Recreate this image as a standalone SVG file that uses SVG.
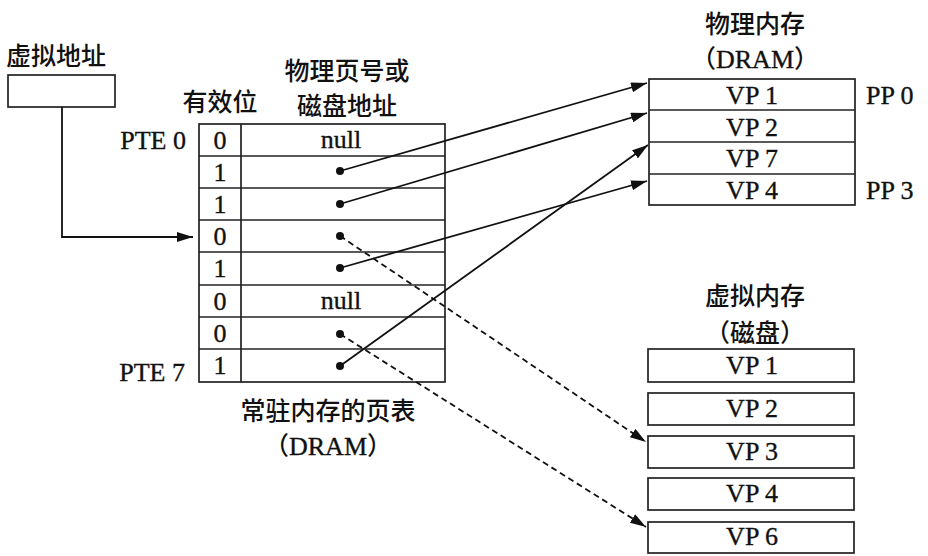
<svg xmlns="http://www.w3.org/2000/svg" width="928" height="556" viewBox="0 0 928 556">
<defs>
<marker id="ah" viewBox="0 0 16 10" refX="16" refY="5" markerWidth="16" markerHeight="10" markerUnits="userSpaceOnUse" orient="auto">
<path d="M0,0 L16,5 L0,10 Z" fill="#111"/>
</marker>
</defs>
<style>
.box{fill:#fff;stroke:#222;stroke-width:1.7}
.ln{stroke:#222;stroke-width:1.7;fill:none}
.cn{stroke:#111;stroke-width:1.8;fill:none}
.dash{stroke-dasharray:6,4}
.t{font-family:"Liberation Serif","Times New Roman",serif;font-size:26px;fill:#111;stroke:#111;stroke-width:0.35}
.c{font-family:"Noto Sans CJK SC","Noto Sans CJK JP",sans-serif;font-size:25px;fill:#111;font-weight:500}
.s{font-family:"Liberation Serif","Times New Roman",serif;font-size:26px;stroke:#111;stroke-width:0.35}
.m{text-anchor:middle}
.e{text-anchor:end}
.dot{fill:#111}
</style>
<rect width="928" height="556" fill="#fff"/>

<g id="va">
<text class="c" x="6" y="65">虚拟地址</text>
<rect class="box" x="8" y="75" width="107" height="32"/>
</g>

<g id="pagetable">
<text class="c m" x="220" y="111">有效位</text>
<text class="c m" x="347" y="80">物理页号或</text>
<text class="c m" x="347" y="115">磁盘地址</text>
<rect class="box" x="199" y="124" width="246" height="258"/>
<line class="ln" x1="241" y1="124" x2="241" y2="382"/>
<line class="ln" x1="199" y1="156" x2="445" y2="156"/>
<line class="ln" x1="199" y1="188" x2="445" y2="188"/>
<line class="ln" x1="199" y1="220" x2="445" y2="220"/>
<line class="ln" x1="199" y1="252" x2="445" y2="252"/>
<line class="ln" x1="199" y1="285" x2="445" y2="285"/>
<line class="ln" x1="199" y1="317" x2="445" y2="317"/>
<line class="ln" x1="199" y1="349" x2="445" y2="349"/>
<text class="t e" x="186" y="149">PTE 0</text>
<text class="t e" x="185" y="381">PTE 7</text>
<text class="t m" x="220" y="149">0</text>
<text class="t m" x="220" y="181">1</text>
<text class="t m" x="220" y="213">1</text>
<text class="t m" x="220" y="245">0</text>
<text class="t m" x="220" y="277">1</text>
<text class="t m" x="220" y="310">0</text>
<text class="t m" x="220" y="342">0</text>
<text class="t m" x="220" y="374">1</text>
<text class="t m" x="341" y="148">null</text>
<text class="t m" x="341" y="309">null</text>
<circle class="dot" cx="340" cy="171" r="4"/>
<circle class="dot" cx="340" cy="204" r="4"/>
<circle class="dot" cx="340" cy="236" r="4"/>
<circle class="dot" cx="340" cy="268" r="4"/>
<circle class="dot" cx="340" cy="334" r="4"/>
<circle class="dot" cx="340" cy="366" r="4"/>
<text class="c m" x="328" y="420">常驻内存的页表</text>
<text class="c m" x="328" y="455">（<tspan class="s">DRAM</tspan>）</text>
</g>

<g id="physmem">
<text class="c m" x="755" y="33">物理内存</text>
<text class="c m" x="755" y="68">（<tspan class="s">DRAM</tspan>）</text>
<rect class="box" x="649" y="79" width="206" height="126"/>
<line class="ln" x1="649" y1="110" x2="855" y2="110"/>
<line class="ln" x1="649" y1="142" x2="855" y2="142"/>
<line class="ln" x1="649" y1="174" x2="855" y2="174"/>
<text class="t m" x="752" y="104">VP 1</text>
<text class="t m" x="752" y="136">VP 2</text>
<text class="t m" x="752" y="167">VP 7</text>
<text class="t m" x="752" y="199">VP 4</text>
<text class="t" x="866" y="104">PP 0</text>
<text class="t" x="866" y="199">PP 3</text>
</g>

<g id="vmem">
<text class="c m" x="755" y="305">虚拟内存</text>
<text class="c m" x="755" y="342">（磁盘）</text>
<rect class="box" x="648" y="349" width="206" height="33"/>
<rect class="box" x="648" y="393" width="206" height="32"/>
<rect class="box" x="648" y="436" width="206" height="32"/>
<rect class="box" x="648" y="478" width="206" height="32"/>
<rect class="box" x="648" y="522" width="206" height="31"/>
<text class="t m" x="752" y="374">VP 1</text>
<text class="t m" x="752" y="417">VP 2</text>
<text class="t m" x="752" y="460">VP 3</text>
<text class="t m" x="752" y="502">VP 4</text>
<text class="t m" x="752" y="545">VP 6</text>
</g>

<g id="connectors">
<path class="cn" d="M62,107 L62,237 L193,237" marker-end="url(#ah)"/>
<line class="cn" x1="340" y1="171" x2="647" y2="83" marker-end="url(#ah)"/>
<line class="cn" x1="340" y1="204" x2="647" y2="113" marker-end="url(#ah)"/>
<line class="cn" x1="340" y1="268" x2="647" y2="181" marker-end="url(#ah)"/>
<line class="cn" x1="340" y1="366" x2="648" y2="145" marker-end="url(#ah)"/>
<line class="cn dash" x1="340" y1="236" x2="646" y2="442" marker-end="url(#ah)"/>
<line class="cn dash" x1="340" y1="334" x2="646" y2="527" marker-end="url(#ah)"/>
</g>
</svg>
